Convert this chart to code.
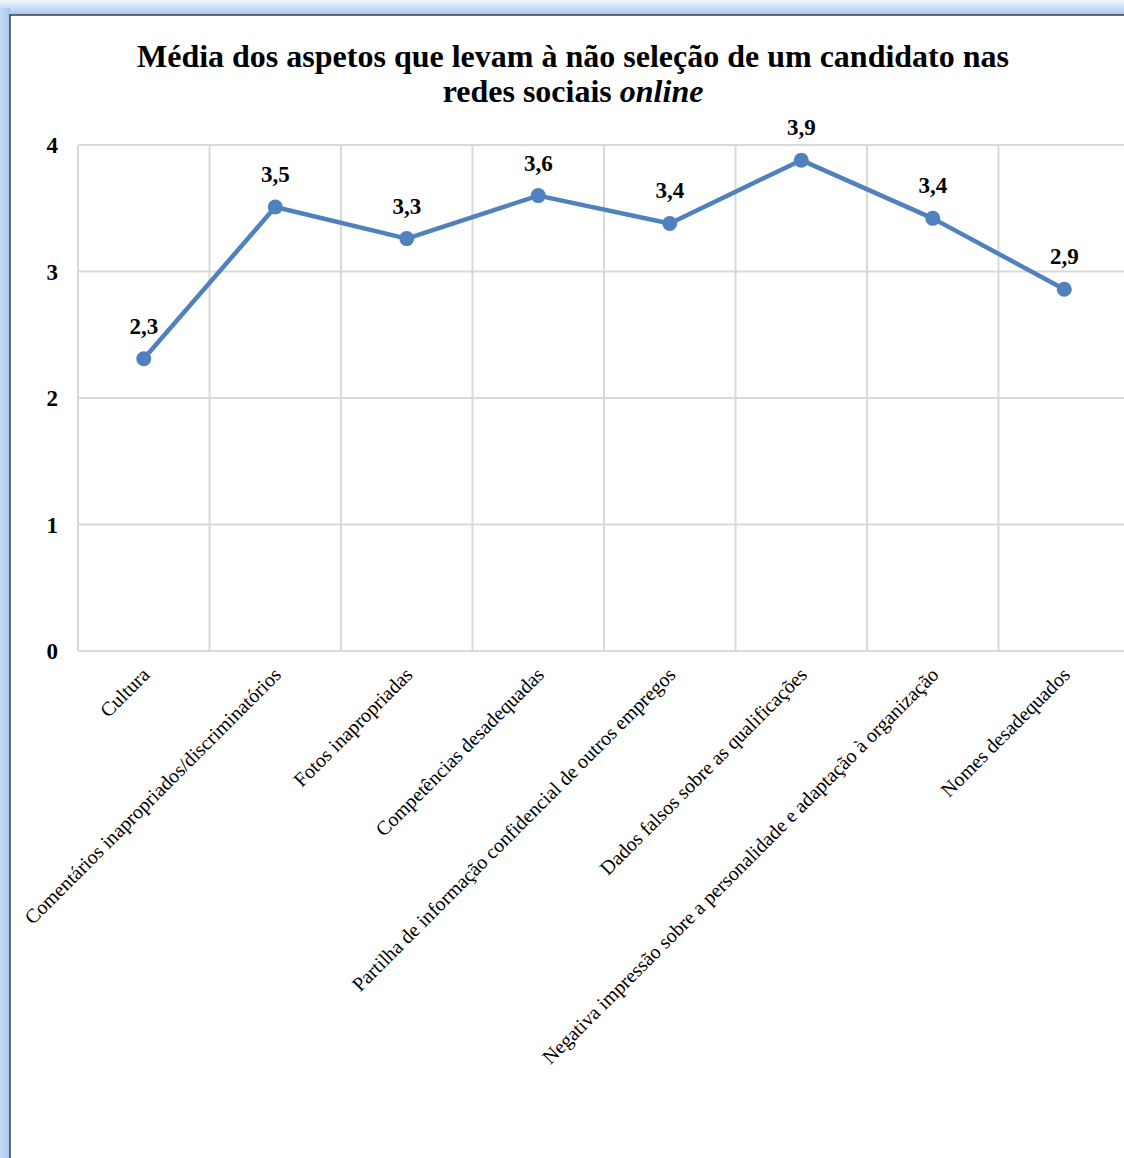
<!DOCTYPE html>
<html>
<head>
<meta charset="utf-8">
<script src="https://cdn.jsdelivr.net/npm/d3@7"></script>
<style>
  body { margin: 0; background: #fff; }
  svg { display: block; }
</style>
</head>
<body>
<div id="chart"></div>
<script>
const categories = [
  'Cultura',
  'Comentários inapropriados/discriminatórios',
  'Fotos inapropriadas',
  'Competências desadequadas',
  'Partilha de informação confidencial de outros empregos',
  'Dados falsos sobre as qualificações',
  'Negativa impressão sobre a personalidade e adaptação à organização',
  'Nomes desadequados',
];
const values = [2.31, 3.51, 3.26, 3.6, 3.38, 3.88, 3.42, 2.86];
const yTicks = [0, 1, 2, 3, 4];

const width = 1124;
const height = 1158;
const margin = { t: 145, r: -6, b: 507, l: 78 };
const fontFamily = '"Times New Roman", "Liberation Serif", serif';

const svg = d3
  .select('#chart')
  .append('svg')
  .attr('width', width)
  .attr('height', height);

// frame with bluish shadow (left and top)
const defs = svg.append('defs');
const gLeft = defs.append('linearGradient').attr('id', 'shadowLeft').attr('x1', 0).attr('x2', 1);
gLeft.append('stop').attr('offset', 0).attr('stop-color', '#c4daf5');
gLeft.append('stop').attr('offset', 1).attr('stop-color', '#a4c6f0');
const gTop = defs.append('linearGradient').attr('id', 'shadowTop').attr('x1', 0).attr('x2', 0).attr('y1', 0).attr('y2', 1);
gTop.append('stop').attr('offset', 0).attr('stop-color', '#f4f8fd');
gTop.append('stop').attr('offset', 1).attr('stop-color', '#a4c6f0');

svg.append('rect').attr('x', 0).attr('y', 0).attr('width', width).attr('height', 15).attr('fill', 'url(#shadowTop)');
svg.append('rect').attr('x', 0).attr('y', 8).attr('width', 10).attr('height', height).attr('fill', 'url(#shadowLeft)');
svg.append('rect').attr('x', 10).attr('y', 15).attr('width', width).attr('height', height)
  .attr('fill', '#fff').attr('stroke', '#3a3f46').attr('stroke-width', 1.5);

const x = d3
  .scaleBand()
  .domain(categories)
  .range([margin.l, width - margin.r]);

const y = d3
  .scaleLinear()
  .domain([0, 4])
  .range([height - margin.b, margin.t]);

// horizontal gridlines
svg
  .append('g')
  .selectAll('line')
  .data(yTicks)
  .join('line')
  .attr('x1', margin.l)
  .attr('x2', width - margin.r)
  .attr('y1', (d) => y(d))
  .attr('y2', (d) => y(d))
  .attr('stroke', '#d9d9d9')
  .attr('stroke-width', 2);

// vertical gridlines at category boundaries
svg
  .append('g')
  .selectAll('line')
  .data(categories)
  .join('line')
  .attr('x1', (d) => x(d))
  .attr('x2', (d) => x(d))
  .attr('y1', y(4))
  .attr('y2', y(0))
  .attr('stroke', '#d9d9d9')
  .attr('stroke-width', 2);

// y axis labels
svg
  .append('g')
  .selectAll('text')
  .data(yTicks)
  .join('text')
  .attr('x', 58)
  .attr('y', (d) => y(d) + 8)
  .attr('text-anchor', 'end')
  .attr('font-family', fontFamily)
  .attr('font-weight', 'bold')
  .attr('font-size', 23)
  .text((d) => d);

// x axis labels, rotated
svg
  .append('g')
  .selectAll('text')
  .data(categories)
  .join('text')
  .attr('transform', (d) => `translate(${x(d) + x.bandwidth() / 2 + 7},${y(0) + 25}) rotate(-45)`)
  .attr('text-anchor', 'end')
  .attr('font-family', fontFamily)
  .attr('font-size', 20)
  .text((d) => d);

// line
const line = d3
  .line()
  .x((d, i) => x(categories[i]) + x.bandwidth() / 2)
  .y((d) => y(d));

svg
  .append('path')
  .datum(values)
  .attr('d', line)
  .attr('fill', 'none')
  .attr('stroke', '#4f81bd')
  .attr('stroke-width', 4.5)
  .attr('stroke-linejoin', 'round');

svg
  .append('g')
  .selectAll('circle')
  .data(values)
  .join('circle')
  .attr('cx', (d, i) => x(categories[i]) + x.bandwidth() / 2)
  .attr('cy', (d) => y(d))
  .attr('r', 7.5)
  .attr('fill', '#4f81bd');

// data labels
const fmt = (v) => d3.format('.1f')(v).replace('.', ',');
svg
  .append('g')
  .selectAll('text')
  .data(values)
  .join('text')
  .attr('x', (d, i) => x(categories[i]) + x.bandwidth() / 2)
  .attr('y', (d) => y(d) - 25)
  .attr('text-anchor', 'middle')
  .attr('font-family', fontFamily)
  .attr('font-weight', 'bold')
  .attr('font-size', 23)
  .text((d) => fmt(d));

// title
const title = svg
  .append('text')
  .attr('x', 573)
  .attr('text-anchor', 'middle')
  .attr('font-family', fontFamily)
  .attr('font-weight', 'bold')
  .attr('font-size', 32);
title.append('tspan').attr('x', 573).attr('y', 67).text('Média dos aspetos que levam à não seleção de um candidato nas');
const line2 = title.append('tspan').attr('x', 573).attr('y', 102);
line2.append('tspan').text('redes sociais ');
line2.append('tspan').attr('font-style', 'italic').text('online');
</script>
</body>
</html>
